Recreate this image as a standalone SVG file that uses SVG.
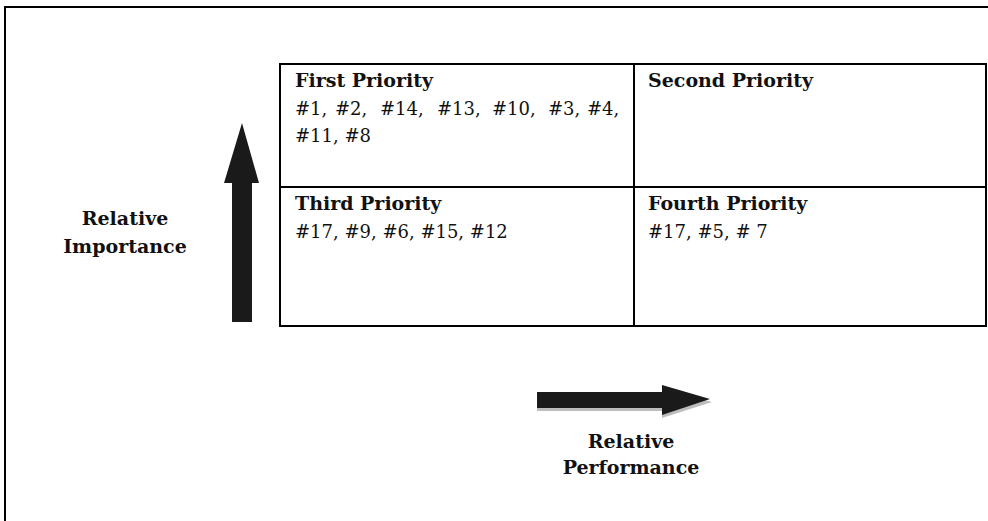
<svg xmlns="http://www.w3.org/2000/svg" width="988" height="521" viewBox="0 0 988 521">
<style>
.frame{fill:none;stroke:#000;stroke-width:2}
.cell{fill:#fff;stroke:#000;stroke-width:2}
.h{font-family:"DejaVu Serif","Liberation Serif",serif;font-weight:bold;font-size:19px;fill:#111}
.t{font-family:"DejaVu Serif","Liberation Serif",serif;font-size:18px;fill:#111}
.arrow{fill:#1a1a1a}
.shadow{fill:#bdbdbd}
</style>
<rect width="988" height="521" fill="#fff"/>
<path class="frame" d="M5,521 V7 H988"/>
<g id="grid">
<rect id="q1" class="cell" x="280" y="64" width="354" height="123"/>
<rect id="q2" class="cell" x="634" y="64" width="352" height="123"/>
<rect id="q3" class="cell" x="280" y="187" width="354" height="139"/>
<rect id="q4" class="cell" x="634" y="187" width="352" height="139"/>
</g>
<g id="first-priority">
<text class="h" x="295" y="87">First Priority</text>
<text class="t" y="115"><tspan x="295">#1,</tspan><tspan x="335">#2,</tspan><tspan x="380">#14,</tspan><tspan x="437">#13,</tspan><tspan x="492">#10,</tspan><tspan x="548">#3,</tspan><tspan x="587">#4,</tspan></text>
<text class="t" x="295" y="142">#11, #8</text>
</g>
<g id="second-priority">
<text class="h" x="648" y="87">Second Priority</text>
</g>
<g id="third-priority">
<text class="h" x="295" y="210">Third Priority</text>
<text class="t" x="295" y="238">#17, #9, #6, #15, #12</text>
</g>
<g id="fourth-priority">
<text class="h" x="648" y="210">Fourth Priority</text>
<text class="t" x="648" y="238">#17, #5, # 7</text>
</g>
<g id="connectors">
<polygon class="arrow" points="232,322 252,322 252,183 259,183 242,123 224,183 232,183"/>
<polygon class="shadow" points="537,395 662,395 662,388 712,402 662,418 662,411 537,411"/>
<polygon class="arrow" points="537,392 662,392 662,385 710,399 662,415 662,408 537,408"/>
</g>
<g id="importance-label">
<text class="h" x="125" y="225" text-anchor="middle">Relative</text>
<text class="h" x="125" y="253" text-anchor="middle">Importance</text>
</g>
<g id="performance-label">
<text class="h" x="631" y="448" text-anchor="middle">Relative</text>
<text class="h" x="631" y="474" text-anchor="middle">Performance</text>
</g>
</svg>
